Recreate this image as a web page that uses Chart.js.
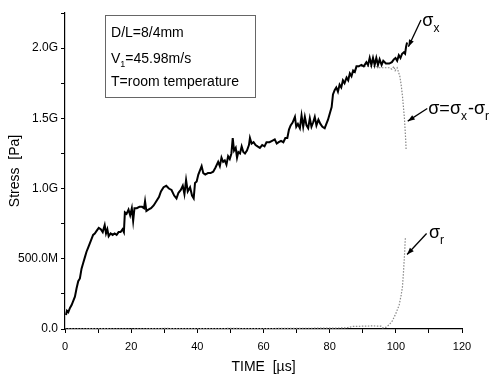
<!DOCTYPE html>
<html>
<head>
<meta charset="utf-8">
<title>Stress vs time</title>
<script src="https://cdn.jsdelivr.net/npm/chart.js@4.4.0/dist/chart.umd.min.js"></script>
<style>
  html, body { margin: 0; padding: 0; background: #fff; }
  canvas { display: block; }
</style>
</head>
<body>
<canvas id="stressChart" width="493" height="379"></canvas>
<script>
// time in µs, stress in GPa
const sigmaXTime = [
    0.3, 0.6, 1.0, 1.5, 2.0, 2.5, 3.0, 3.5, 4.0, 4.5, 5.0, 5.5, 6.0, 6.5, 7.0, 7.5, 8.0, 8.5, 9.0, 9.6,
    10.2, 10.8, 11.4, 12.0, 12.4, 12.8, 13.2, 13.8, 14.4, 15.0, 15.6, 16.2, 16.8, 17.4, 17.8, 18.1, 18.6, 19.2, 19.7, 20.2,
    20.6, 21.0, 21.7, 22.5, 23.3, 23.9, 24.2, 24.6, 25.2, 26.0, 26.8, 27.6, 28.4, 29.0, 29.8, 30.6, 31.4, 32.2, 33.0, 33.7,
    34.3, 35.0, 35.6, 36.1, 36.6, 37.1, 37.8, 38.4, 38.9, 39.3, 39.8, 40.3, 40.8, 41.3, 41.8, 42.4, 43.2, 44.0, 44.8, 45.5,
    46.3, 46.8, 47.3, 47.8, 48.3, 48.8, 49.3, 49.8, 50.3, 50.7, 51.1, 51.6, 52.0, 52.4, 52.9, 53.4, 53.9, 54.4, 55.0, 55.6,
    55.9, 56.4, 57.0, 57.6, 58.2, 58.9, 59.6, 60.3, 60.9, 61.8, 62.6, 63.4, 64.0, 64.6, 65.3, 66.0, 66.6, 67.2, 67.7, 68.2,
    68.8, 69.5, 69.9, 70.4, 71.0, 71.5, 72.0, 72.5, 73.0, 73.5, 74.0, 74.5, 75.0, 75.5, 76.0, 76.6, 77.2, 77.8, 78.5, 79.0,
    79.5, 80.1, 80.6, 81.0, 81.5, 82.0, 82.5, 83.0, 83.5, 84.0, 84.5, 85.1, 85.6, 86.1, 86.6, 87.1, 87.6, 88.1, 88.8, 89.6,
    90.3, 91.1, 91.6, 92.1, 92.6, 93.1, 93.6, 94.1, 94.6, 95.1, 95.7, 96.2, 97.0, 98.0, 98.8, 99.4, 99.9, 100.4, 100.9, 101.4,
    101.9, 102.4, 102.8, 103.1, 103.4
];
const sigmaXValues = [
    0.10, 0.13, 0.12, 0.15, 0.17, 0.20, 0.23, 0.29, 0.34, 0.36, 0.43, 0.47, 0.51, 0.55, 0.58, 0.61, 0.64, 0.67, 0.68, 0.70,
    0.72, 0.71, 0.69, 0.74, 0.68, 0.71, 0.66, 0.68, 0.67, 0.68, 0.67, 0.69, 0.69, 0.71, 0.69, 0.83, 0.82, 0.85, 0.81, 0.86,
    0.77, 0.86, 0.86, 0.87, 0.87, 0.86, 0.91, 0.84, 0.85, 0.86, 0.88, 0.91, 0.94, 0.98, 1.01, 1.02, 1.00, 0.99, 0.95, 0.93,
    0.97, 0.99, 1.02, 0.96, 1.06, 0.98, 1.01, 0.95, 0.93, 1.04, 1.05, 1.10, 1.13, 1.16, 1.11, 1.10, 1.11, 1.11, 1.12, 1.15,
    1.19, 1.16, 1.22, 1.19, 1.20, 1.17, 1.23, 1.21, 1.25, 1.36, 1.27, 1.29, 1.22, 1.26, 1.25, 1.30, 1.26, 1.25, 1.27, 1.31,
    1.36, 1.32, 1.33, 1.31, 1.30, 1.29, 1.31, 1.30, 1.33, 1.33, 1.34, 1.35, 1.32, 1.33, 1.34, 1.33, 1.36, 1.36, 1.42, 1.45,
    1.47, 1.51, 1.44, 1.46, 1.43, 1.52, 1.44, 1.51, 1.45, 1.43, 1.50, 1.44, 1.47, 1.51, 1.45, 1.49, 1.46, 1.44, 1.43, 1.46,
    1.49, 1.54, 1.58, 1.67, 1.70, 1.72, 1.69, 1.74, 1.72, 1.77, 1.75, 1.79, 1.77, 1.82, 1.80, 1.84, 1.83, 1.87, 1.87, 1.88,
    1.87, 1.90, 1.88, 1.93, 1.88, 1.93, 1.88, 1.93, 1.88, 1.92, 1.88, 1.91, 1.89, 1.89, 1.90, 1.92, 1.93, 1.91, 1.95, 1.93,
    1.96, 1.97, 1.96, 2.01, 2.04
];

// sigma = sigma_x - sigma_r, only visible once it leaves sigma_x
const sigmaTime = [
    84.0, 85.1, 86.1, 87.1, 88.1, 89.0, 90.0, 91.0, 92.0, 93.0, 94.0, 95.0, 96.0, 97.0, 98.0, 98.8, 99.4, 99.8, 100.4, 100.8,
    101.2, 101.6, 102.0, 102.3, 102.6, 102.8, 103.0, 103.1
];
const sigmaValues = [
    1.77, 1.78, 1.81, 1.83, 1.86, 1.87, 1.87, 1.87, 1.87, 1.87, 1.87, 1.86, 1.86, 1.86, 1.86, 1.85, 1.87, 1.84, 1.86, 1.83,
    1.80, 1.74, 1.66, 1.58, 1.50, 1.42, 1.34, 1.28
];

const sigmaRTime = [
    0, 10, 20, 30, 40, 50, 60, 70, 80, 85, 87, 90, 93, 95.5, 96, 97, 98, 99, 100, 101,
    101.6, 102.0, 102.3, 102.5, 102.7, 102.8, 102.9
];
const sigmaRValues = [
    0.0, 0.003, 0.0, 0.004, 0.002, 0.004, 0.003, 0.005, 0.006, 0.008, 0.018, 0.02, 0.022, 0.02, 0.008, 0.012, 0.03, 0.06, 0.11, 0.17,
    0.24, 0.30, 0.40, 0.48, 0.56, 0.62, 0.65
];

const xTicks = [0, 20, 40, 60, 80, 100, 120];
const yTickLabels = { 0: '0.0', 0.5: '500.0M', 1: '1.0G', 1.5: '1.5G', 2: '2.0G' };

const infoLines = ['D/L=8/4mm', 'V|1|=45.98m/s', 'T=room temperature'];

function toPoints(xs, ys) {
    return xs.map((x, i) => ({ x: x, y: ys[i] }));
}

// draws the text box, the sigma labels and the arrows
const annotations = {
    id: 'annotations',
    afterDatasetsDraw(chart) {
        const ctx = chart.ctx;
        const xs = chart.scales.x;
        const ys = chart.scales.y;
        const px = (v) => xs.getPixelForValue(v);
        const py = (v) => ys.getPixelForValue(v);

        ctx.save();

        // info box
        const bx1 = px(12.1), bx2 = px(57.4), by1 = py(2.235), by2 = py(1.65);
        ctx.strokeStyle = '#666';
        ctx.lineWidth = 1;
        ctx.strokeRect(Math.round(bx1) + 0.5, Math.round(by1) + 0.5, Math.round(bx2 - bx1), Math.round(by2 - by1));

        ctx.fillStyle = '#000';
        ctx.textBaseline = 'middle';
        ctx.textAlign = 'left';
        const lineY = [py(2.107), py(1.922), py(1.758)];
        infoLines.forEach((line, i) => {
            const parts = line.split('|');
            let x = bx1 + 6;
            parts.forEach((part, j) => {
                const sub = j % 2 === 1;
                ctx.font = sub ? '9px "Liberation Sans", Arial, sans-serif' : '14px "Liberation Sans", Arial, sans-serif';
                ctx.fillText(part, x, lineY[i] + (sub ? 5 : 0));
                x += ctx.measureText(part).width;
            });
        });

        function arrow(x1, y1, x2, y2) {
            ctx.strokeStyle = '#000';
            ctx.fillStyle = '#000';
            ctx.lineWidth = 1.3;
            ctx.beginPath();
            ctx.moveTo(x1, y1);
            ctx.lineTo(x2, y2);
            ctx.stroke();
            const a = Math.atan2(y2 - y1, x2 - x1);
            const len = 7, w = 2.6;
            ctx.beginPath();
            ctx.moveTo(x2, y2);
            ctx.lineTo(x2 - len * Math.cos(a) + w * Math.sin(a), y2 - len * Math.sin(a) - w * Math.cos(a));
            ctx.lineTo(x2 - len * Math.cos(a) - w * Math.sin(a), y2 - len * Math.sin(a) + w * Math.cos(a));
            ctx.closePath();
            ctx.fill();
        }

        // label made of [text, isSubscript] pieces
        function label(pieces, x, y) {
            ctx.fillStyle = '#000';
            ctx.textBaseline = 'middle';
            pieces.forEach(([t, sub]) => {
                ctx.font = sub ? '12px "Liberation Sans", Arial, sans-serif' : '18px "Liberation Sans", Arial, sans-serif';
                ctx.fillText(t, x, y + (sub ? 7 : 0));
                x += ctx.measureText(t).width + (sub ? 1 : 0);
            });
        }

        arrow(px(107.6), py(2.20), px(103.8), py(2.01));
        label([['σ', false], ['x', true]], px(108.0), py(2.19));

        arrow(px(109.5), py(1.57), px(103.6), py(1.48));
        label([['σ=σ', false], ['x', true], ['-σ', false], ['r', true]], px(109.8), py(1.565));

        arrow(px(109.3), py(0.68), px(103.4), py(0.53));
        label([['σ', false], ['r', true]], px(110.0), py(0.68));

        ctx.restore();
    }
};

const narrowFont = '"Liberation Sans Narrow", "Arial Narrow", "Liberation Sans", Arial, sans-serif';
const plainFont = '"Liberation Sans", Arial, sans-serif';

new Chart(document.getElementById('stressChart').getContext('2d'), {
    type: 'line',
    data: {
        datasets: [
            {
                label: 'σr',
                data: toPoints(sigmaRTime, sigmaRValues),
                borderColor: '#888',
                borderWidth: 1.2,
                borderDash: [1.5, 1.5],
                pointRadius: 0,
                tension: 0,
                order: 3
            },
            {
                label: 'σ',
                data: toPoints(sigmaTime, sigmaValues),
                borderColor: '#888',
                borderWidth: 1.2,
                borderDash: [1.5, 1.5],
                pointRadius: 0,
                tension: 0,
                order: 2
            },
            {
                label: 'σx',
                data: toPoints(sigmaXTime, sigmaXValues),
                borderColor: '#000',
                borderWidth: 2,
                pointRadius: 0,
                tension: 0,
                order: 1
            }
        ]
    },
    options: {
        responsive: false,
        animation: false,
        layout: { padding: { top: 13, right: 31, left: 0, bottom: 0 } },
        plugins: {
            legend: { display: false },
            tooltip: { enabled: false }
        },
        scales: {
            x: {
                type: 'linear',
                min: 0,
                max: 120,
                border: { color: '#000', width: 1.2 },
                grid: { drawOnChartArea: false, drawTicks: true, tickLength: 4, color: '#000' },
                ticks: {
                    stepSize: 10,
                    autoSkip: false,
                    maxRotation: 0,
                    padding: 7,
                    color: '#000',
                    font: { family: narrowFont, size: 11 },
                    callback: (v) => (xTicks.includes(v) ? String(v) : '')
                },
                title: {
                    display: true,
                    text: 'TIME  [µs]',
                    color: '#000',
                    font: { family: plainFont, size: 14 },
                    padding: { top: 0, bottom: 3 }
                },
                afterFit: (scale) => { scale.height = 50; }
            },
            y: {
                min: 0,
                max: 2.25,
                border: { color: '#000', width: 1.2 },
                grid: { drawOnChartArea: false, drawTicks: true, tickLength: 4, color: '#000' },
                ticks: {
                    stepSize: 0.25,
                    autoSkip: false,
                    padding: 3,
                    color: '#000',
                    font: { family: narrowFont, size: 12 },
                    callback: (v) => (yTickLabels[v] !== undefined ? yTickLabels[v] : '')
                },
                title: {
                    display: true,
                    text: 'Stress  [Pa]',
                    color: '#000',
                    font: { family: plainFont, size: 14 },
                    padding: { top: 7, bottom: 0 }
                },
                afterFit: (scale) => { scale.width = 65; }
            }
        }
    },
    plugins: [annotations]
});
</script>
</body>
</html>
